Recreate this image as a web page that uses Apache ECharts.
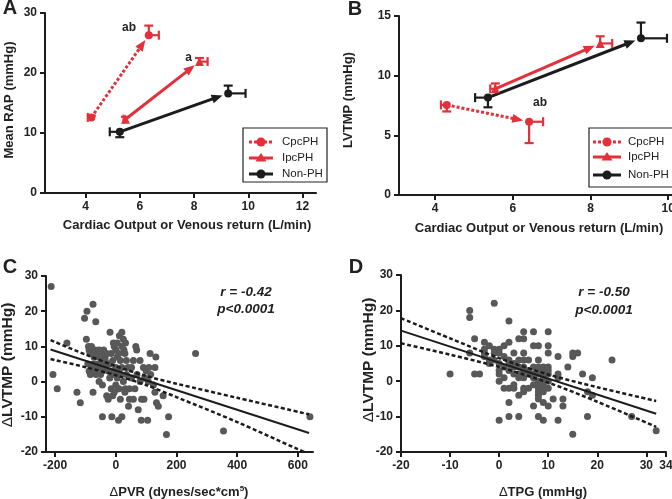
<!DOCTYPE html>
<html><head><meta charset="utf-8">
<script src="https://cdn.jsdelivr.net/npm/echarts@6/dist/echarts.min.js"></script>
<style>html,body{margin:0;padding:0;background:#fff}#c{width:672px;height:499px}</style>
</head><body><div id="c"></div>
<script>
// ---------- Panel A : Mean RAP vs CO ----------
// each: [xStart, yStart, xEnd, yEnd]
const aCpcPH = [4.21, 12.6, 6.33, 26.3];
const aIpcPH = [5.47, 12.3, 8.20, 21.9];
const aNonPH = [5.26, 10.2, 9.26, 16.6];
// error bars: [x, y, xLow, xHigh, yLow, yHigh]
const aErr = [
  [4.21, 12.6, 4.08, 4.21, 12.6, 12.9],
  [6.33, 26.3, 6.33, 6.70, 26.3, 27.9],
  [5.47, 12.3, 5.40, 5.47, 12.3, 12.7],
  [8.20, 21.9, 8.20, 8.50, 21.9, 22.5],
  [5.26, 10.2, 4.89, 5.26, 9.3, 10.2],
  [9.26, 16.6, 9.26, 9.90, 16.6, 17.9]
];
const aNotes = [[5.6, 27.5, 'ab'], [7.8, 22.6, 'a']];
const aXTicks = [4, 6, 8, 10, 12];

// ---------- Panel B : LVTMP vs CO ----------
const bCpcPH = [4.30, 7.55, 6.42, 6.14];
const bIpcPH = [5.55, 8.90, 8.25, 12.7];
const bNonPH = [5.36, 8.16, 9.30, 13.13];
const bErr = [
  [4.30, 7.55, 4.15, 4.30, 7.0, 7.55],
  [6.42, 6.14, 6.42, 6.78, 4.35, 6.14],
  [5.55, 8.90, 5.42, 5.55, 8.90, 9.35],
  [8.25, 12.7, 8.25, 8.56, 12.7, 13.3],
  [5.36, 8.16, 5.03, 5.36, 7.35, 8.16],
  [9.30, 13.13, 9.30, 9.97, 13.13, 14.45]
];
const bNotes = [[6.7, 7.7, 'ab']];
const bXTicks = [4, 6, 8, 10];

// ---------- Panel C : dLVTMP vs dPVR ----------
const cPoints = [
 [-213,27],[-207,2],[-193,-2],[-161,11],[-128,-3],[-117,-6],[-103,18],[-95,20],[-75,22],[-66,17],[-97,12],
 [-90,10],[-88,9],[-85,8],[-80,10],[-78,8],[-72,7],[-68,9],[-62,8],[-58,7],[-55,9],[-50,8],[-45,6],[-40,9],[-35,7],[-30,8],
 [-92,5],[-88,3],[-84,2],[-80,4],[-75,5],[-70,3],[-65,2],[-60,4],[-55,5],[-50,2],[-45,3],[-40,4],[-35,6],[-30,5],[-25,3],[-20,5],
 [-75,-3],[-68,5],[-55,0],[-44,-1],[-44,-10],[-13,-10],[9,-11],[20,-10],
 [-19,14],[20,14],[-8,11],[25,12],[32,11],[27,9],[66,10],[69,9],[58,6],[52,4],[80,6],[91,4],[109,4],[129,4],[52,1],[63,-2],[31,-2],[9,-2],
 [45,-5],[42,-7],[74,-8],[58,-5],[85,-5],[93,-5],[84,-11],[105,-11],[113,8],[132,7],[107,0],[124,-1],[129,-3],[134,-6],[140,-7],[156,-4],
 [167,-15],[174,-10],[263,8],[355,-14],[640,-10],
 [-15,8],[-10,6],[-5,10],[0,9],[5,7],[10,8],[15,6],[20,10],[30,8],[35,6],[40,4],[-10,3],[-5,2],[0,4],[5,1],[10,3],[15,2],[20,4],[25,0],
 [35,2],[-15,-2],[-10,-4],[-5,-3],[0,-1],[10,-2],[15,-5],[30,-3],[5,11],[12,13],[-25,-5],[-30,-4],[45,-2],[-20,1],[70,2],[80,0],[95,1],[100,3],[115,2]
];
const cFit = [[-215, 9.1], [637, -14.6]];
const cUpper = [[-215,11.8],[-100,7.7],[0,4.4],[100,1.6],[200,-0.6],[400,-4.6],[637,-9.3]];
const cLower = [[-215,6.4],[-100,4.1],[0,1.8],[100,-1.0],[200,-4.4],[400,-11.5],[600,-19.2],[622,-20]];
const cXTicks = [-200, 0, 200, 400, 600];

// ---------- Panel D : dLVTMP vs dTPG ----------
const dPoints = [
 [-10,2],[-6,20],[-6,18],[-5,12],[-5,2],[-4,2],[-6,8],[-3,11],[-3,9],[-3,8],[-3,7],[-2,10],[-2,6],[-2,5],[-1,22],[-1,8],[-1,6],[-1,9],
 [0,9],[0,8],[0,5],[0,3],[0,2],[0,0],[0,-11],[1,10],[1,7],[1,4],[1,-2],[1,1],[2,17],[2,11],[2,6],[2,5],[2,3],[2,-2],[2,-6],[2,-10],
 [3,8],[3,5],[3,4],[3,2],[3,-1],[3,-2],[4,12],[4,6],[4,4],[4,2],[4,1],[4,-4],[4,-10],[5,14],[5,12],[5,8],[5,6],[5,4],[5,3],[5,1],[5,-2],[5,-3],
 [6,6],[6,3],[6,2],[6,-2],[7,14],[7,10],[7,4],[7,2],[7,1],[7,-1],[7,-7],[8,10],[8,6],[8,4],[8,3],[8,2],[8,0],[8,-1],[8,-2],[8,-3],[8,-4],[8,-5],[8,-10],
 [9,4],[9,3],[9,2],[9,1],[9,0],[9,-1],[9,-2],[9,-3],[9,-6],[9,-11],[10,14],[10,10],[10,8],[10,4],[10,3],[10,2],[10,0],[10,-2],[10,-7],
 [11,-5],[12,7],[12,2],[12,1],[12,-11],[13,-5],[13,-7],[14,4],[15,8],[15,7],[15,-15],[16,8],[17,2],[18,-3],[18,-10],[19,1],[19,-4],[23,6],[27,-10],[32,-14]
];
const dFit = [[-20, 14.3], [32, -9.2]];
const dUpper = [[-20,17.8],[-10,12.1],[0,6.5],[10,1.9],[20,-1.7],[32,-5.6]];
const dLower = [[-20,10.7],[-10,7.5],[0,4.0],[10,-0.4],[20,-5.8],[32,-12.9]];

// ---------- style ----------
const RED = '#e3303a', BLK = '#1c1c1c', GRY = '#585858';
const FONT = 'Liberation Sans, Arial, sans-serif';

function xAxis(idx, min, max, ticks, interval) {
  const o = {
    type: 'value', gridIndex: idx, min: min, max: max,
    axisLine: {show: true, onZero: false, lineStyle: {color: BLK, width: 2}},
    axisTick: {show: true, inside: false, length: 5, lineStyle: {color: BLK, width: 2}},
    axisLabel: {color: '#222', fontFamily: FONT, fontWeight: 'bold', fontSize: 12, margin: 8},
    splitLine: {show: false}
  };
  if (ticks) { o.axisTick.customValues = ticks; o.axisLabel.customValues = ticks; }
  else o.interval = interval;
  return o;
}
function yAxis(idx, min, max, interval) {
  return {
    type: 'value', gridIndex: idx, min: min, max: max, interval: interval,
    axisLine: {show: true, onZero: false, lineStyle: {color: BLK, width: 2}},
    axisTick: {show: true, inside: false, length: 5, lineStyle: {color: BLK, width: 2}},
    axisLabel: {color: '#222', fontFamily: FONT, fontWeight: 'bold', fontSize: 12, margin: 8},
    splitLine: {show: false}
  };
}

function arrowSeries(idx, d, color, dashed) {
  return {
    type: 'custom', xAxisIndex: idx, yAxisIndex: idx, clip: false, z: 3,
    data: [d],
    renderItem: function (params, api) {
      const p0 = api.coord([api.value(0), api.value(1)]);
      const p1 = api.coord([api.value(2), api.value(3)]);
      const dx = p1[0] - p0[0], dy = p1[1] - p0[1];
      const L = Math.sqrt(dx * dx + dy * dy);
      const ux = dx / L, uy = dy / L;
      const tip = [p1[0] - ux * 6, p1[1] - uy * 6];
      const base = [tip[0] - ux * 11, tip[1] - uy * 11];
      const px = -uy * 4.5, py = ux * 4.5;
      return {type: 'group', children: [
        {type: 'line', shape: {x1: p0[0], y1: p0[1], x2: base[0] + ux * 2, y2: base[1] + uy * 2},
         style: {stroke: color, lineWidth: 3, lineDash: dashed ? [3, 2] : null}},
        {type: 'polygon', shape: {points: [tip, [base[0] + px, base[1] + py], [base[0] - px, base[1] - py]]},
         style: {fill: color}}
      ]};
    }
  };
}
function errSeries(idx, data, colors) {
  return {
    type: 'custom', xAxisIndex: idx, yAxisIndex: idx, clip: false, z: 4,
    data: data,
    renderItem: function (params, api) {
      const c = colors[params.dataIndex];
      const x = api.value(0), y = api.value(1);
      const xl = api.coord([api.value(2), y]), xh = api.coord([api.value(3), y]);
      const yl = api.coord([x, api.value(4)]), yh = api.coord([x, api.value(5)]);
      const st = {stroke: c, lineWidth: 2.2};
      const ch = [];
      if (xh[0] - xl[0] > 0.5) {
        ch.push({type: 'line', shape: {x1: xl[0], y1: xl[1], x2: xh[0], y2: xh[1]}, style: st});
        const center = api.coord([x, y]);
        const cx = Math.abs(xh[0] - center[0]) > 0.5 ? xh[0] : xl[0];
        ch.push({type: 'line', shape: {x1: cx, y1: xl[1] - 4.5, x2: cx, y2: xl[1] + 4.5}, style: st});
      }
      if (yl[1] - yh[1] > 0.5) {
        ch.push({type: 'line', shape: {x1: yl[0], y1: yl[1], x2: yh[0], y2: yh[1]}, style: st});
        const center = api.coord([x, y]);
        const cy = Math.abs(yh[1] - center[1]) > 0.5 ? yh[1] : yl[1];
        ch.push({type: 'line', shape: {x1: yl[0] - 4.5, y1: cy, x2: yl[0] + 4.5, y2: cy}, style: st});
      }
      return {type: 'group', children: ch};
    }
  };
}
function markerSeries(idx, d, color, symbol) {
  return {
    type: 'scatter', xAxisIndex: idx, yAxisIndex: idx, z: 5, symbol: symbol,
    symbolSize: symbol === 'triangle' ? 9 : 8, itemStyle: {color: color, opacity: 1},
    data: [[d[0], d[1]], [d[2], d[3]]], silent: true
  };
}
function noteSeries(idx, notes) {
  return {
    type: 'custom', xAxisIndex: idx, yAxisIndex: idx, clip: false, z: 6,
    data: notes,
    renderItem: function (params, api) {
      const p = api.coord([api.value(0), api.value(1)]);
      return {type: 'text', x: p[0], y: p[1],
        style: {text: notes[params.dataIndex][2], fill: '#222', font: 'bold 12px ' + FONT, align: 'center', verticalAlign: 'middle'}};
    }
  };
}
function scatterSeries(idx, pts) {
  return {type: 'scatter', xAxisIndex: idx, yAxisIndex: idx, data: pts, symbolSize: 7,
    itemStyle: {color: GRY, opacity: 1}, z: 2, silent: true};
}
function lineSeries(idx, pts, dashed, w) {
  return {type: 'line', xAxisIndex: idx, yAxisIndex: idx, data: pts, showSymbol: false, smooth: 0.3,
    lineStyle: {color: BLK, width: w, type: dashed ? [4, 2.5] : 'solid'}, z: 3, silent: true};
}

function txt(x, y, s, font, rot, extra) {
  return Object.assign({type: 'text', x: x, y: y, rotation: rot || 0,
    style: {text: s, font: font, fill: '#222', align: 'center', verticalAlign: 'middle'}}, extra || {});
}
function legend(x0, y0, w, h, lx0, lx1, tx, rows) {
  const ch = [{type: 'rect', shape: {x: x0, y: y0, width: w, height: h}, style: {fill: '#fff', stroke: '#222', lineWidth: 1.2}}];
  const items = [['CpcPH', RED, true, 'circle'], ['IpcPH', RED, false, 'triangle'], ['Non-PH', BLK, false, 'circle']];
  items.forEach(function (it, i) {
    const y = rows[i];
    ch.push({type: 'line', shape: {x1: lx0, y1: y, x2: lx1, y2: y}, style: {stroke: it[1], lineWidth: 3, lineDash: it[2] ? [3, 2] : null}});
    const mx = (lx0 + lx1) / 2;
    if (it[3] === 'circle') ch.push({type: 'circle', shape: {cx: mx, cy: y, r: 4.5}, style: {fill: it[1]}});
    else ch.push({type: 'polygon', shape: {points: [[mx, y - 5], [mx - 5.5, y + 3.5], [mx + 5.5, y + 3.5]]}, style: {fill: it[1]}});
    ch.push({type: 'text', x: tx, y: y, style: {text: it[0], font: '11.5px ' + FONT, fill: '#222', align: 'left', verticalAlign: 'middle'}});
  });
  return {type: 'group', children: ch, z: 20};
}

const TITLE = 'bold 13px ' + FONT;
const chart = echarts.init(document.getElementById('c'), null, {renderer: 'canvas'});
chart.setOption({
  animation: false,
  backgroundColor: '#fff',
  grid: [
    {left: 45, top: 13, width: 271, height: 180, outerBoundsMode: 'none', containLabel: false},
    {left: 399, top: 16, width: 287, height: 179, outerBoundsMode: 'none', containLabel: false},
    {left: 46, top: 276, width: 267, height: 176, outerBoundsMode: 'none', containLabel: false},
    {left: 401, top: 275, width: 265, height: 177, outerBoundsMode: 'none', containLabel: false}
  ],
  xAxis: [
    xAxis(0, 2.5, 12.5, aXTicks),
    xAxis(1, 3.07, 10.46, bXTicks),
    xAxis(2, -230, 650, cXTicks),
    xAxis(3, -20, 34, null, 10)
  ],
  yAxis: [
    yAxis(0, 0, 30, 10),
    yAxis(1, 0, 15, 5),
    yAxis(2, -20, 30, 10),
    yAxis(3, -20, 30, 10)
  ],
  series: [
    arrowSeries(0, aCpcPH, RED, true), arrowSeries(0, aIpcPH, RED, false), arrowSeries(0, aNonPH, BLK, false),
    errSeries(0, aErr, [RED, RED, RED, RED, BLK, BLK]),
    markerSeries(0, aCpcPH, RED, 'circle'), markerSeries(0, aIpcPH, RED, 'triangle'), markerSeries(0, aNonPH, BLK, 'circle'),
    noteSeries(0, aNotes),
    arrowSeries(1, bCpcPH, RED, true), arrowSeries(1, bIpcPH, RED, false), arrowSeries(1, bNonPH, BLK, false),
    errSeries(1, bErr, [RED, RED, RED, RED, BLK, BLK]),
    markerSeries(1, bCpcPH, RED, 'circle'), markerSeries(1, bIpcPH, RED, 'triangle'), markerSeries(1, bNonPH, BLK, 'circle'),
    noteSeries(1, bNotes),
    scatterSeries(2, cPoints), lineSeries(2, cFit, false, 2), lineSeries(2, cUpper, true, 2.5), lineSeries(2, cLower, true, 2.5),
    scatterSeries(3, dPoints), lineSeries(3, dFit, false, 2), lineSeries(3, dUpper, true, 2.5), lineSeries(3, dLower, true, 2.5)
  ],
  graphic: [
    txt(10, 8.5, 'A', 'bold 20px ' + FONT),
    txt(355, 9.5, 'B', 'bold 20px ' + FONT),
    txt(10, 267.5, 'C', 'bold 20px ' + FONT),
    txt(356, 267.5, 'D', 'bold 20px ' + FONT),
    txt(187, 225, 'Cardiac Output or Venous return (L/min)', TITLE),
    txt(9, 100, 'Mean RAP (mmHg)', TITLE, Math.PI / 2),
    txt(539, 228, 'Cardiac Output or Venous return (L/min)', TITLE),
    txt(348.5, 100, 'LVTMP (mmHg)', TITLE, Math.PI / 2),
    {type: 'text', x: 179, y: 492, style: {
      text: '{d|Δ}PVR (dynes/sec*cm{s|5})', font: TITLE, fill: '#222', align: 'center', verticalAlign: 'middle',
      rich: {d: {font: '13px ' + FONT, fill: '#222'}, s: {font: 'bold 8px ' + FONT, fill: '#222', verticalAlign: 'top', padding: [0, 0, 7, 0]}}}},
    {type: 'text', x: 8, y: 365, rotation: Math.PI / 2, style: {
      text: '{d|Δ}LVTMP (mmHg)', font: 'bold 15.5px ' + FONT, fill: '#222', align: 'center', verticalAlign: 'middle',
      rich: {d: {font: '15.5px ' + FONT, fill: '#222'}}}},
    {type: 'text', x: 543, y: 492, style: {
      text: '{d|Δ}TPG (mmHg)', font: TITLE, fill: '#222', align: 'center', verticalAlign: 'middle',
      rich: {d: {font: '13px ' + FONT, fill: '#222'}}}},
    {type: 'text', x: 369, y: 360, rotation: Math.PI / 2, style: {
      text: '{d|Δ}LVTMP (mmHg)', font: 'bold 15.5px ' + FONT, fill: '#222', align: 'center', verticalAlign: 'middle',
      rich: {d: {font: '15.5px ' + FONT, fill: '#222'}}}},
    txt(246, 292, 'r = -0.42', 'italic bold 13.5px ' + FONT),
    txt(246, 309, 'p<0.0001', 'italic bold 13.5px ' + FONT),
    txt(604, 292, 'r = -0.50', 'italic bold 13.5px ' + FONT),
    txt(604, 310, 'p<0.0001', 'italic bold 13.5px ' + FONT),
    legend(243, 128, 84, 54, 249, 273, 282, [142, 158, 174]),
    legend(589, 128, 95, 59, 593, 621, 628, [142, 157, 175])
  ]
});
</script></body></html>
